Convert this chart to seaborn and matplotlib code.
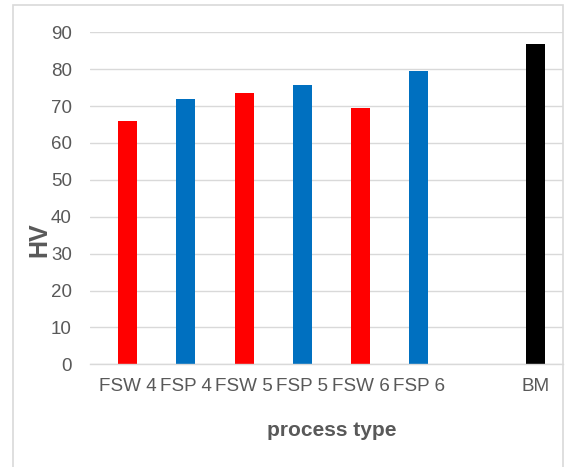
import matplotlib
matplotlib.use("Agg")
import matplotlib.pyplot as plt
import seaborn as sns
import pandas as pd
from matplotlib.patches import Rectangle

categories = ["FSW 4", "FSP 4", "FSW 5", "FSP 5", "FSW 6", "FSP 6", "BM"]
order = ["FSW 4", "FSP 4", "FSW 5", "FSP 5", "FSW 6", "FSP 6", " ", "BM"]
values = [65.9, 72.0, 73.6, 75.7, 69.6, 79.4, 86.7]
colors = ["#FF0000", "#0070C0", "#FF0000", "#0070C0", "#FF0000", "#0070C0", "#000000"]
yticks = [0, 10, 20, 30, 40, 50, 60, 70, 80, 90]

df = pd.DataFrame({"type": categories, "HV": values})

sns.set_style("white")
plt.rcParams["font.family"] = ["Liberation Sans", "DejaVu Sans"]

fig = plt.figure(figsize=(5.66, 4.67), dpi=100)
ax = fig.add_axes([90/566, 1-364.3/467, (563-90)/566, (364.3-32.3)/467])

sns.barplot(data=df, x="type", y="HV", hue="type", order=order,
            hue_order=categories, palette=dict(zip(categories, colors)),
            width=0.326, legend=False, ax=ax, saturation=1, linewidth=0)

ax.set_ylim(0, 90)
ax.set_xlim(-0.643, 7.47)
ax.set_yticks(yticks)
ax.set_yticklabels([str(t) for t in yticks])
ax.yaxis.grid(True, color="#D9D9D9", linewidth=1.0)
ax.set_axisbelow(True)
for s in ["top", "right", "left"]:
    ax.spines[s].set_visible(False)
ax.spines["bottom"].set_color("#D9D9D9")
ax.spines["bottom"].set_linewidth(1.0)
ax.tick_params(axis="y", length=0, pad=13, labelsize=13.5, labelcolor="#595959")
ax.tick_params(axis="x", length=0, pad=10, labelsize=13.6, labelcolor="#595959")

ax.set_xlabel("")
ax.set_ylabel("")
fig.text(39/566, 1-240/467, "HV", rotation=90, ha="center", va="center",
         fontsize=18, fontweight="bold", color="#595959")
fig.text(332/566, 1-430/467, "process type", ha="center", va="center",
         fontsize=15, fontweight="bold", color="#595959")

fig.patches.append(Rectangle((13/566, -0.01), (563-13)/566, 1-5/467+0.01,
                             transform=fig.transFigure, fill=False,
                             edgecolor="#D9D9D9", linewidth=1.2))

fig.savefig("out.png", dpi=100)
